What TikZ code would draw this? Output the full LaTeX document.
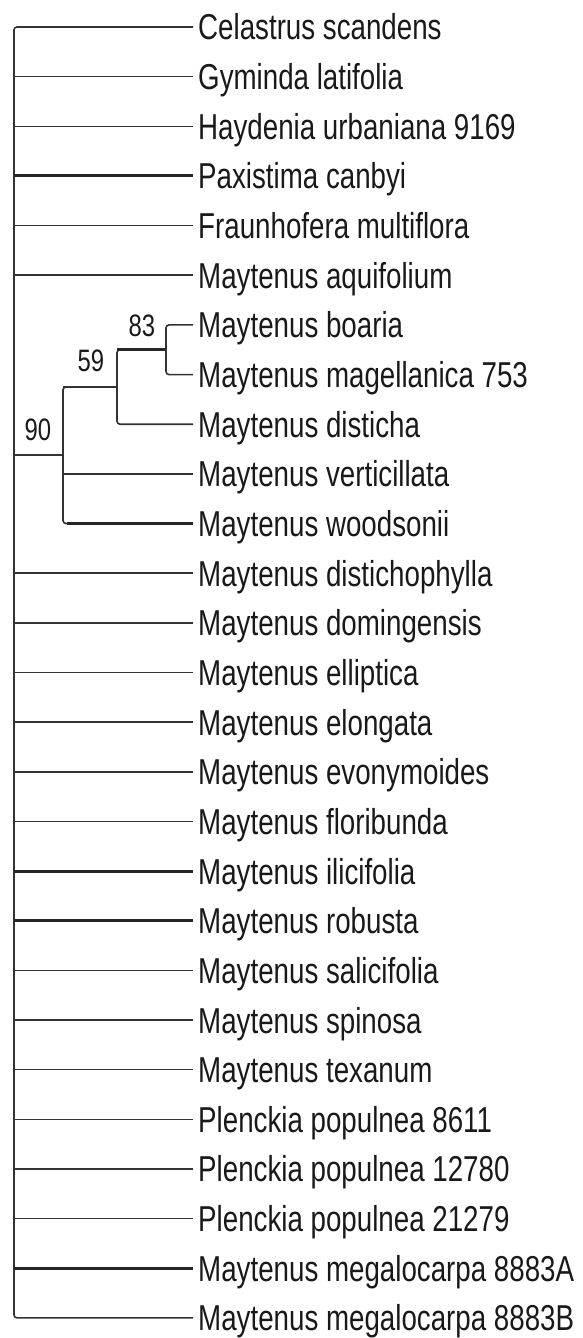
\documentclass[tikz,border=0pt]{standalone}
\usepackage{fontspec}
\setmainfont[FakeStretch=0.77]{Liberation Sans}
\begin{document}
\begin{tikzpicture}[x=1pt,y=-1pt,
  leaf/.style={anchor=west,inner ysep=0pt,inner xsep=5pt,text height=26pt,text depth=0pt,
    font=\fontsize{36}{40}\selectfont,text=black!90},
  supp/.style={inner sep=0pt,font=\fontsize{31}{34}\selectfont,text=black!90},
  br/.style={line width=1.6pt,draw=black!80},
  rc/.style={br,rounded corners=3pt},
  thk/.style={line width=3pt,draw=black!85}]
\useasboundingbox (0,0) rectangle (582,1338);
\def\dy{49.65}
\foreach \i/\t in {0/Celastrus scandens,1/Gyminda latifolia,2/Haydenia urbaniana 9169,
  3/Paxistima canbyi,4/Fraunhofera multiflora,5/Maytenus aquifolium,6/Maytenus boaria,
  7/Maytenus magellanica 753,8/Maytenus disticha,9/Maytenus verticillata,10/Maytenus woodsonii,
  11/Maytenus distichophylla,12/Maytenus domingensis,13/Maytenus elliptica,14/Maytenus elongata,
  15/Maytenus evonymoides,16/Maytenus floribunda,17/Maytenus ilicifolia,18/Maytenus robusta,
  19/Maytenus salicifolia,20/Maytenus spinosa,21/Maytenus texanum,22/Plenckia populnea 8611,
  23/Plenckia populnea 12780,24/Plenckia populnea 21279,25/Maytenus megalocarpa 8883A,
  26/Maytenus megalocarpa 8883B}
  \node[leaf] (L\i) at (193,{27+\i*\dy}) {\t};
% internal nodes
\coordinate (root) at (14,672.4);
\coordinate (n83) at (166,349.7);
\coordinate (n59) at (117,387.0);
\coordinate (n90) at (63,455.2);
% root clade
\draw[rc] (L0.west) -| (root) |- (L26.west);
\foreach \i in {1,2,4,5,11,12,13,14,15,16,19,20,21,22,23,24}
  \draw[br] (root |- L\i.west) -- (L\i.west);
\foreach \i in {3,17,18,25}
  \draw[thk] (root |- L\i.west) -- (L\i.west);
\draw[br] (root |- n90) -- (n90);
% clade 90
\draw[rc] ([xshift=4pt]n90 |- n59) -| (n90) |- (L10.west);
\draw[br] (n90 |- n59) -- (n59);
\draw[thk] ([xshift=4pt]n90 |- L10.west) -- (L10.west);
\draw[br] (n90 |- L9.west) -- (L9.west);
% clade 59
\draw[rc] ([xshift=4pt]n59 |- n83) -| (n59) |- (L8.west);
\draw[thk] (n59 |- n83) -- (n83);
% clade 83
\draw[rc] (L6.west) -| (n83) |- (L7.west);
% support values
\node[supp] (s90) at (38,430) {90};
\node[supp] (s59) at (91,361) {59};
\node[supp] (s83) at (142,326) {83};
\end{tikzpicture}
\end{document}
